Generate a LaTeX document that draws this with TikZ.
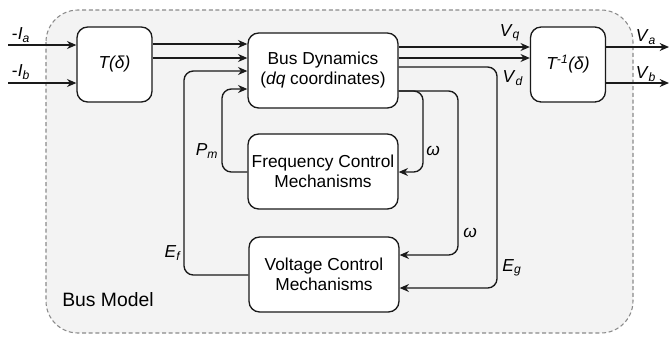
\documentclass[tikz,border=0pt]{standalone}
\usepackage{fontspec}
\setmainfont{Liberation Sans}
\usetikzlibrary{arrows.meta}
\definecolor{modelFill}{HTML}{F3F3F3}
\definecolor{modelBorder}{HTML}{8A8A8A}
\definecolor{lineColor}{HTML}{1A1A1A}
\newcommand{\varsub}[2]{\textit{#1}\textsubscript{\textit{#2}}}

\begin{document}
\begin{tikzpicture}[
    x=0.75pt, y=-0.75pt,
    block/.style={
        rectangle, draw=lineColor, fill=white,
        minimum width=112.5pt, minimum height=56.25pt,
        align=center, inner sep=0pt,
        text centered, rounded corners=8pt,
        line width=1pt, font=\fontsize{13}{15}\selectfont
    },
    small block/.style={block, minimum width=56.25pt},
    arrow/.style={-{Stealth[length=7pt, width=6pt]}, line width=1pt, draw=lineColor},
    link/.style={arrow, rounded corners=7pt},
    sig/.style={font=\fontsize{13}{15}\selectfont, inner sep=1pt}
]
  \useasboundingbox (0,0) rectangle (669,337);

  % Bus model boundary
  \draw[dash pattern=on 3pt off 2pt, draw=modelBorder, fill=modelFill, line width=0.8pt, rounded corners=24pt]
      (46,10) rectangle (633,333);
  \node[sig, font=\fontsize{14.5}{16}\selectfont] (busmodel) at (108,300) {Bus Model};

  % Blocks
  \node[small block] (tblk) at (114.5,64.5) {\textit{T(δ)}};
  \node[block] (bus) at (323,70.5) {Bus Dynamics\\(\textit{dq} coordinates)};
  \node[small block] (tinv) at (568,64.5) {\textit{T\textsuperscript{-1}(δ)}};
  \node[block] (freq) at (323,171.5) {Frequency Control\\Mechanisms};
  \node[block] (volt) at (324,274.5) {Voltage Control\\Mechanisms};

  % Free ends of inputs and outputs
  \coordinate (ia) at (8,45);
  \coordinate (ib) at (8,83);
  \coordinate (va) at (669,47);
  \coordinate (vb) at (669,83);

  % Inputs to T
  \draw[arrow] (ia) -- (tblk.west |- ia);
  \draw[arrow] (ib) -- (tblk.west |- ib);
  \node[sig] (lia) at (21,35) {-\varsub{I}{a}};
  \node[sig] (lib) at (21,72) {-\varsub{I}{b}};

  % T to Bus Dynamics
  \draw[arrow] (tblk.east |- 0,44) -- (bus.west |- 0,44);
  \draw[arrow] (tblk.east |- 0,58) -- (bus.west |- 0,58);

  % Feedback from control blocks
  \draw[link] (volt.west |- 0,275) -| (184,71) -- (bus.west |- 0,71);
  \draw[link] (freq.west |- 0,172) -| (222,89) -- (bus.west |- 0,89);
  \node[sig] (lef) at (173,253) {\varsub{E}{f}};
  \node[sig] (lpm) at (207,151) {\varsub{P}{m}};

  % Bus Dynamics to control blocks
  \draw[link] (bus.east |- 0,91) -| (423,172) -- (freq.east |- 0,172);
  \draw[link] (bus.east |- 0,91) -| (458,255) -- (volt.east |- 0,255);
  \draw[link] (bus.east |- 0,67) -| (497,288) -- (volt.east |- 0,288);
  \node[sig] (lwf) at (433,151) {\textit{ω}};
  \node[sig] (lwv) at (470,233) {\textit{ω}};
  \node[sig] (leg) at (512,268) {\varsub{E}{g}};

  % Bus Dynamics to inverse transform
  \draw[arrow] (bus.east |- 0,47) -- (tinv.west |- 0,47);
  \draw[arrow] (bus.east |- 0,58) -- (tinv.west |- 0,58);
  \node[sig] (lvq) at (510,33) {\varsub{V}{q}};
  \node[sig] (lvd) at (513,78) {\varsub{V}{d}};

  % Outputs
  \draw[arrow] (tinv.east |- va) -- (va);
  \draw[arrow] (tinv.east |- vb) -- (vb);
  \node[sig] (lva) at (646,37) {\varsub{V}{a}};
  \node[sig] (lvb) at (646,74) {\varsub{V}{b}};

\end{tikzpicture}
\end{document}
